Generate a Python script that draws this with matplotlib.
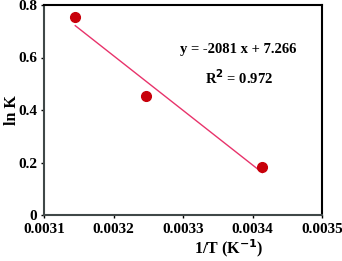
import matplotlib
matplotlib.use("Agg")
import matplotlib.pyplot as plt
import numpy as np

plt.rcParams['font.family'] = ['Liberation Serif', 'DejaVu Serif']
plt.rcParams['font.weight'] = 'bold'
plt.rcParams['mathtext.default'] = 'bf'

inv_t = np.array([0.003145, 0.003247, 0.003414])
ln_k = np.array([0.754, 0.453, 0.183])
slope = -2081
intercept = 7.266

fig = plt.figure(figsize=(3.42, 2.61), dpi=100)
ax = fig.add_axes([44/342, 1-215/261, 278/342, 210/261])

xf = np.array([inv_t.min(), inv_t.max()])
ax.plot(xf, slope*xf + intercept, color="#e8336b", linewidth=1)
ax.plot(inv_t, ln_k, 'o', color="#c8000a", markersize=7)

ax.set_xlim(0.0031, 0.0035)
ax.set_ylim(0, 0.8)
ax.set_xticks([0.0031, 0.0032, 0.0033, 0.0034, 0.0035])
ax.set_xticklabels(["0.0031", "0.0032", "0.0033", "0.0034", "0.0035"])
ax.set_yticks([0, 0.2, 0.4, 0.6, 0.8])
ax.set_yticklabels(["0", "0.2", "0.4", "0.6", "0.8"])
ax.tick_params(labelsize=11, length=2, width=1)
ax.tick_params(axis='x', pad=4)
ax.tick_params(axis='y', pad=3)
for lab in ax.get_xticklabels() + ax.get_yticklabels():
    lab.set_fontweight('bold')

ax.spines['left'].set_color("#404848")
ax.spines['bottom'].set_color("#404848")
for s in ax.spines.values():
    s.set_linewidth(1.5)

ax.set_xlabel("1/T (K$^{-1}$)", fontsize=11.5, fontweight='bold')
ax.xaxis.set_label_coords(185/278, -(237-215)/210)
ax.set_ylabel("ln K", fontsize=11.5, fontweight='bold')
ax.yaxis.set_label_coords(-(44-20)/278, (215-110)/210)

ax.text(0.7, 0.79, "y = -2081 x + 7.266", transform=ax.transAxes, ha='center', va='center',
        fontsize=10.5, fontweight='bold')
ax.text(0.7, 0.655, "R$^2$ = 0.972", transform=ax.transAxes, ha='center', va='center',
        fontsize=10.5, fontweight='bold')

fig.savefig("out.png", dpi=100)
